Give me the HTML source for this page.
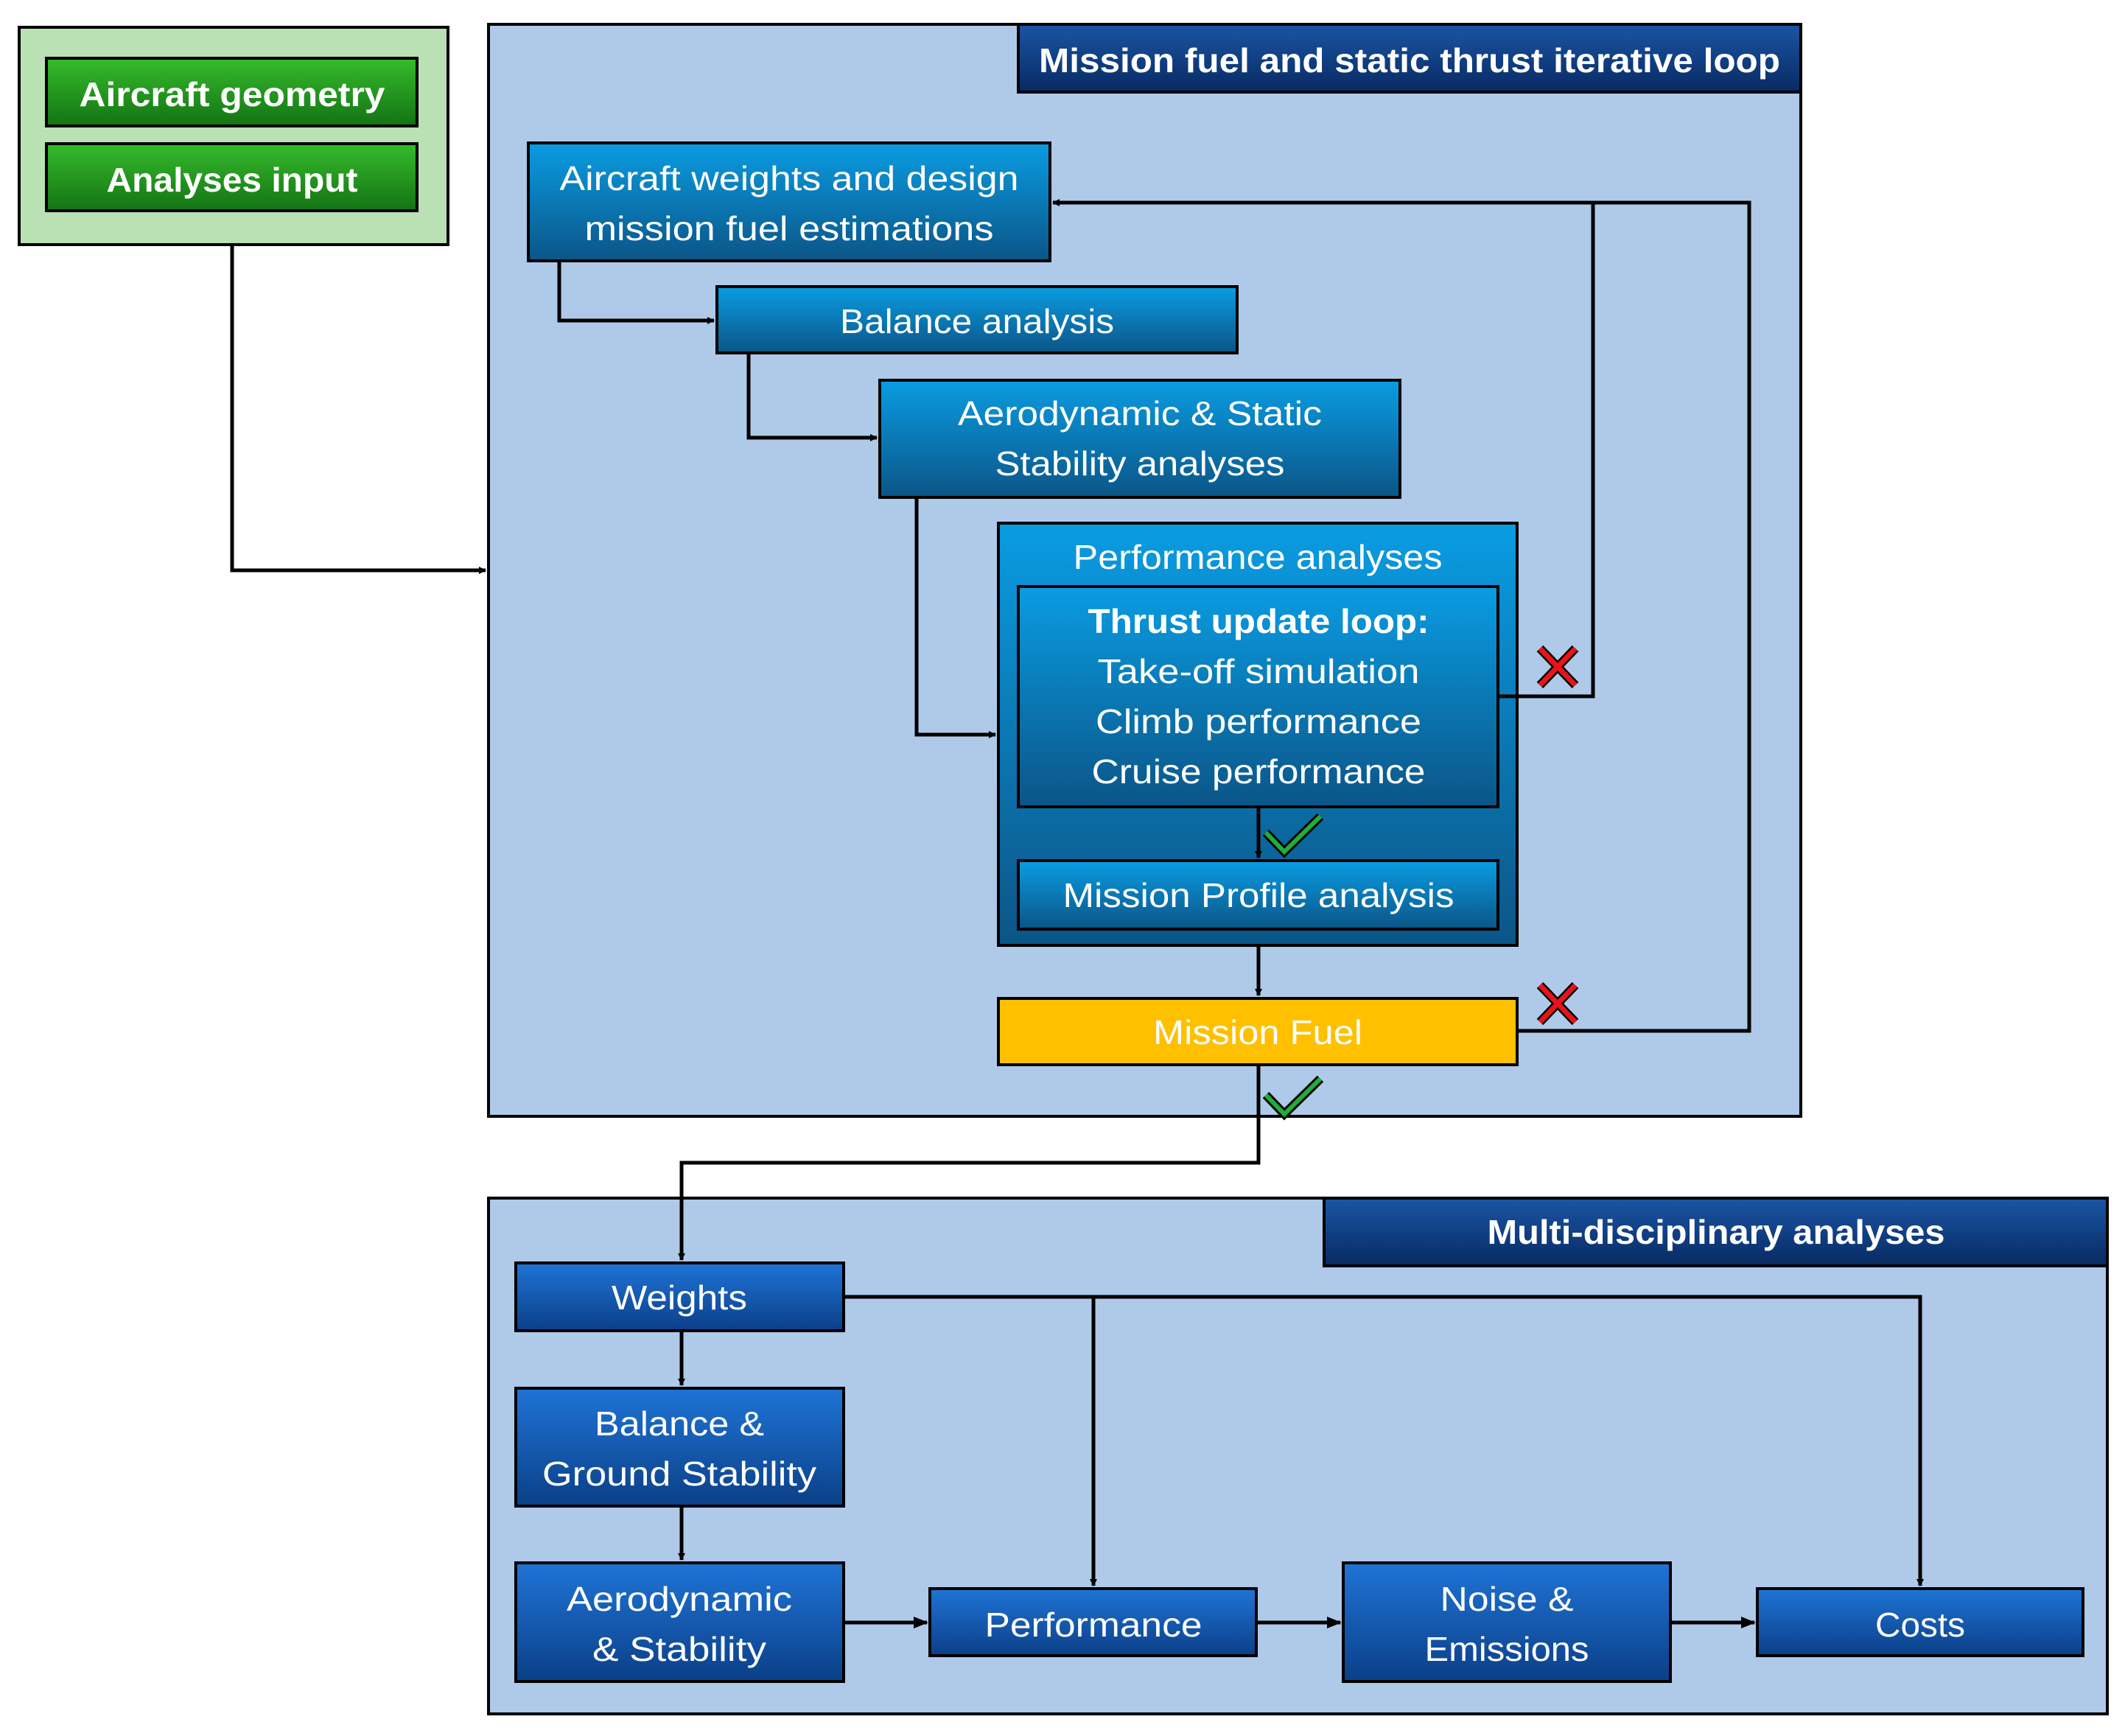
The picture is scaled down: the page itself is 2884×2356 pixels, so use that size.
<!DOCTYPE html>
<html><head><meta charset="utf-8"><style>
html,body{margin:0;padding:0;background:#fff;}
svg{display:block;}
text{font-family:"Liberation Sans",sans-serif;fill:#fff;text-anchor:middle;}
</style></head><body>
<svg width="2884" height="2356" viewBox="0 0 2884 2356" xmlns="http://www.w3.org/2000/svg">
<defs>
<linearGradient id="gb" x1="0" y1="0" x2="0" y2="1"><stop offset="0" stop-color="#0a9ce2"/><stop offset="1" stop-color="#0b5587"/></linearGradient>
<linearGradient id="gd" x1="0" y1="0" x2="0" y2="1"><stop offset="0" stop-color="#1f74d6"/><stop offset="1" stop-color="#0b3f88"/></linearGradient>
<linearGradient id="gn" x1="0" y1="0" x2="0" y2="1"><stop offset="0" stop-color="#1b55a5"/><stop offset="1" stop-color="#082a62"/></linearGradient>
<linearGradient id="gg" x1="0" y1="0" x2="0" y2="1"><stop offset="0" stop-color="#36bb2c"/><stop offset="1" stop-color="#137313"/></linearGradient>
<marker id="ar" markerWidth="10" markerHeight="10" refX="9" refY="5" orient="auto" markerUnits="userSpaceOnUse" viewBox="0 0 10 10"><path d="M0,0 L10,5 L0,10 z" fill="#000"/></marker>
<marker id="arb" markerWidth="20" markerHeight="20" refX="18" refY="10" orient="auto" markerUnits="userSpaceOnUse" viewBox="0 0 20 20"><path d="M0,2 L20,10 L0,18 z" fill="#000"/></marker>
</defs>
<g stroke="#000" stroke-width="4">
<!-- green input -->
<rect x="26" y="37" width="582" height="295" fill="#b9e1b4"/>
<rect x="63" y="79" width="503" height="92" fill="url(#gg)"/>
<rect x="63" y="195" width="503" height="91" fill="url(#gg)"/>
<!-- top loop container -->
<rect x="663" y="33" width="1781" height="1482" fill="#afc9e9"/>
<rect x="1382" y="33" width="1062" height="92" fill="url(#gn)"/>
<rect x="717" y="194" width="708" height="160" fill="url(#gb)"/>
<rect x="973" y="389" width="706" height="90" fill="url(#gb)"/>
<rect x="1194" y="516" width="706" height="159" fill="url(#gb)"/>
<rect x="1355" y="710" width="704" height="573" fill="url(#gb)"/>
<rect x="1382" y="796" width="651" height="299" fill="url(#gb)"/>
<rect x="1382" y="1168" width="651" height="93" fill="url(#gb)"/>
<rect x="1355" y="1355" width="704" height="90" fill="#ffc000"/>
<!-- bottom container -->
<rect x="663" y="1626" width="2197" height="700" fill="#afc9e9"/>
<rect x="1797" y="1626" width="1063" height="92" fill="url(#gn)"/>
<rect x="700" y="1714" width="445" height="92" fill="url(#gd)"/>
<rect x="700" y="1884" width="445" height="160" fill="url(#gd)"/>
<rect x="700" y="2121" width="445" height="161" fill="url(#gd)"/>
<rect x="1262" y="2156" width="443" height="91" fill="url(#gd)"/>
<rect x="1823" y="2121" width="444" height="161" fill="url(#gd)"/>
<rect x="2385" y="2156" width="442" height="91" fill="url(#gd)"/>
</g>
<!-- connectors -->
<g stroke="#000" stroke-width="5" fill="none">
<polyline points="315,332 315,774 659,774" marker-end="url(#ar)"/>
<polyline points="759,354 759,435 969,435" marker-end="url(#ar)"/>
<polyline points="1016,479 1016,594 1190,594" marker-end="url(#ar)"/>
<polyline points="1244,675 1244,997 1351,997" marker-end="url(#ar)"/>
<polyline points="1708,1095 1708,1164" marker-end="url(#ar)"/>
<polyline points="1708,1283 1708,1351" marker-end="url(#ar)"/>
<polyline points="2033,945 2162,945 2162,275"/>
<polyline points="2059,1399 2374,1399 2374,275 1429,275" marker-end="url(#ar)"/>
<polyline points="1708,1445 1708,1578 925,1578 925,1710" marker-end="url(#ar)"/>
<polyline points="925,1806 925,1880" marker-end="url(#ar)"/>
<polyline points="925,2044 925,2117" marker-end="url(#ar)"/>
<polyline points="1145,1760 2606,1760 2606,2152" marker-end="url(#ar)"/>
<polyline points="1484,1760 1484,2152" marker-end="url(#ar)"/>
<polyline points="1145,2202 1258,2202" marker-end="url(#arb)"/>
<polyline points="1705,2202 1819,2202" marker-end="url(#arb)"/>
<polyline points="2267,2202 2381,2202" marker-end="url(#arb)"/>
</g>
<!-- X marks -->
<g stroke="#000" stroke-width="12" stroke-linecap="butt">
<path d="M2090,880 L2138,930 M2138,880 L2090,930"/>
<path d="M2090,1337 L2138,1387 M2138,1337 L2090,1387"/>
</g>
<g stroke="#e8141a" stroke-width="7">
<path d="M2090,880 L2138,930 M2138,880 L2090,930"/>
<path d="M2090,1337 L2138,1387 M2138,1337 L2090,1387"/>
</g>
<!-- check marks -->
<g fill="none" stroke-linejoin="miter">
<path d="M1718,1130 L1743,1156 L1792,1108" stroke="#000" stroke-width="12"/>
<path d="M1718,1130 L1743,1156 L1792,1108" stroke="#1fae3a" stroke-width="6"/>
<path d="M1718,1486 L1743,1512 L1792,1464" stroke="#000" stroke-width="12"/>
<path d="M1718,1486 L1743,1512 L1792,1464" stroke="#1fae3a" stroke-width="6"/>
</g>
<!-- text -->
<g font-size="46" lengthAdjust="spacingAndGlyphs">
<text x="315" y="144" font-weight="bold" textLength="415" lengthAdjust="spacingAndGlyphs">Aircraft geometry</text>
<text x="315" y="260" font-weight="bold" textLength="341" lengthAdjust="spacingAndGlyphs">Analyses input</text>
<text x="1913" y="98" font-weight="bold" textLength="1006" lengthAdjust="spacingAndGlyphs">Mission fuel and static thrust iterative loop</text>
<text x="1071" y="258" textLength="623" lengthAdjust="spacingAndGlyphs">Aircraft weights and design</text>
<text x="1071" y="326" textLength="555" lengthAdjust="spacingAndGlyphs">mission fuel estimations</text>
<text x="1326" y="452" textLength="372" lengthAdjust="spacingAndGlyphs">Balance analysis</text>
<text x="1547" y="577" textLength="494" lengthAdjust="spacingAndGlyphs">Aerodynamic &amp; Static</text>
<text x="1547" y="645" textLength="393" lengthAdjust="spacingAndGlyphs">Stability analyses</text>
<text x="1707" y="772" textLength="501" lengthAdjust="spacingAndGlyphs">Performance analyses</text>
<text x="1708" y="859" font-weight="bold" textLength="463" lengthAdjust="spacingAndGlyphs">Thrust update loop:</text>
<text x="1708" y="927" textLength="437" lengthAdjust="spacingAndGlyphs">Take-off simulation</text>
<text x="1708" y="995" textLength="442" lengthAdjust="spacingAndGlyphs">Climb performance</text>
<text x="1708" y="1063" textLength="453" lengthAdjust="spacingAndGlyphs">Cruise performance</text>
<text x="1708" y="1231" textLength="531" lengthAdjust="spacingAndGlyphs">Mission Profile analysis</text>
<text x="1707" y="1417" textLength="284" lengthAdjust="spacingAndGlyphs">Mission Fuel</text>
<text x="2329" y="1688" font-weight="bold" textLength="621" lengthAdjust="spacingAndGlyphs">Multi-disciplinary analyses</text>
<text x="922" y="1777" textLength="184" lengthAdjust="spacingAndGlyphs">Weights</text>
<text x="922" y="1948" textLength="230" lengthAdjust="spacingAndGlyphs">Balance &amp;</text>
<text x="922" y="2016" textLength="372" lengthAdjust="spacingAndGlyphs">Ground Stability</text>
<text x="922" y="2186" textLength="306" lengthAdjust="spacingAndGlyphs">Aerodynamic</text>
<text x="922" y="2254" textLength="236" lengthAdjust="spacingAndGlyphs">&amp; Stability</text>
<text x="1484" y="2221" textLength="295" lengthAdjust="spacingAndGlyphs">Performance</text>
<text x="2045" y="2186" textLength="181" lengthAdjust="spacingAndGlyphs">Noise &amp;</text>
<text x="2045" y="2254" textLength="223" lengthAdjust="spacingAndGlyphs">Emissions</text>
<text x="2606" y="2221" textLength="122" lengthAdjust="spacingAndGlyphs">Costs</text>
</g>
</svg>
</body></html>
